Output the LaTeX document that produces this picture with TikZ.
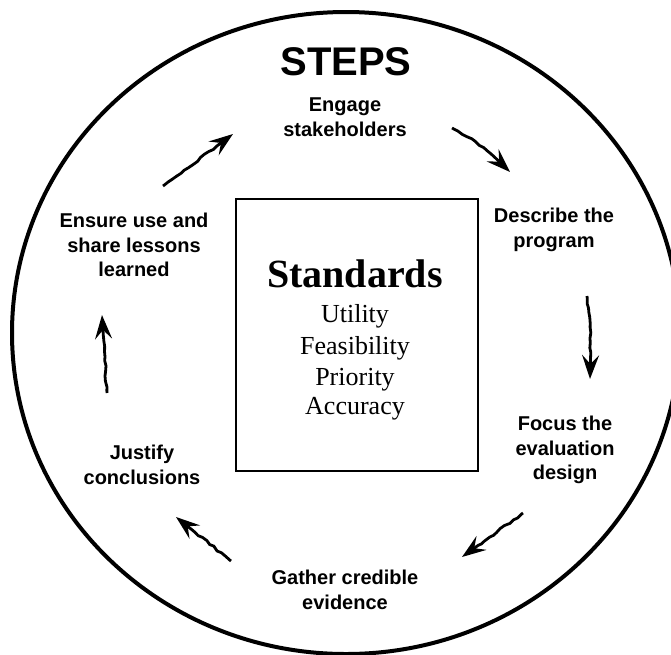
\documentclass[tikz,border=0pt]{standalone}
\usepackage{fontspec}
\setmainfont{Liberation Sans}
\newfontfamily\boxserif{Liberation Serif}
\usetikzlibrary{arrows.meta,decorations.pathmorphing}

\begin{document}
\begin{tikzpicture}[x=1pt,y=-1pt,
  steplabel/.style={font=\fontsize{20}{24.5}\selectfont\bfseries, align=center, inner sep=0pt},
  stdline/.style={font=\boxserif\fontsize{26}{31}\selectfont, anchor=base, inner sep=0pt},
  cyclearrow/.style={line width=2.8pt,
    -{Stealth[length=24pt,width=17pt,inset=9pt]},
    decorate, decoration={random steps, segment length=5pt, amplitude=0.9pt,
      pre length=2pt, post length=20pt}},
]
\pgfmathsetseed{7}
\useasboundingbox (0,0) rectangle (671,654);
\fill[white] (0,0) rectangle (671,654);

% outer ring
\draw[line width=4pt] (346,333) ellipse [x radius=334, y radius=321];

% title
\node[font=\fontsize{40}{40}\selectfont\bfseries, inner sep=0pt] (title) at (346,62) {STEPS};

% standards box
\node[draw, line width=2.5pt, minimum width=242pt, minimum height=272pt] (box) at (357,335) {};
\node[font=\boxserif\fontsize{40}{40}\selectfont\bfseries, anchor=base, inner sep=0pt] (stdtitle) at (355,287) {Standards};
\node[stdline] (utility) at (355,322) {Utility};
\node[stdline] (feasibility) at (355,354) {Feasibility};
\node[stdline] (priority) at (355,385) {Priority};
\node[stdline] (accuracy) at (355,414) {Accuracy};

% the six steps
\node[steplabel] (engage) at (345,117) {Engage\\stakeholders};
\node[steplabel] (describe) at (554,230) {Describe the\\program};
\node[steplabel] (focus) at (565,450) {Focus the\\evaluation\\design};
\node[steplabel] (gather) at (345,590) {Gather credible\\evidence};
\node[steplabel] (justify) at (142,465) {Justify\\conclusions};
\node[steplabel] (ensure) at (134,245) {Ensure use and\\share lessons\\learned};

% arrow end points
\coordinate (a1s) at (452,128); \coordinate (a1e) at (510,172);
\coordinate (a2s) at (587,296); \coordinate (a2e) at (590,379);
\coordinate (a3s) at (523,513); \coordinate (a3e) at (462,557);
\coordinate (a4s) at (231,561); \coordinate (a4e) at (176,517);
\coordinate (a5s) at (107,393); \coordinate (a5e) at (102,315);
\coordinate (a6s) at (163,186); \coordinate (a6e) at (233,134);

% hand-drawn cycle arrows
\draw[cyclearrow] (a1s) to[bend left=8] (a1e);
\draw[cyclearrow] (a2s) to[bend left=4] (a2e);
\draw[cyclearrow] (a3s) to (a3e);
\draw[cyclearrow] (a4s) to (a4e);
\draw[cyclearrow] (a5s) to (a5e);
\draw[cyclearrow] (a6s) to (a6e);
\end{tikzpicture}
\end{document}
